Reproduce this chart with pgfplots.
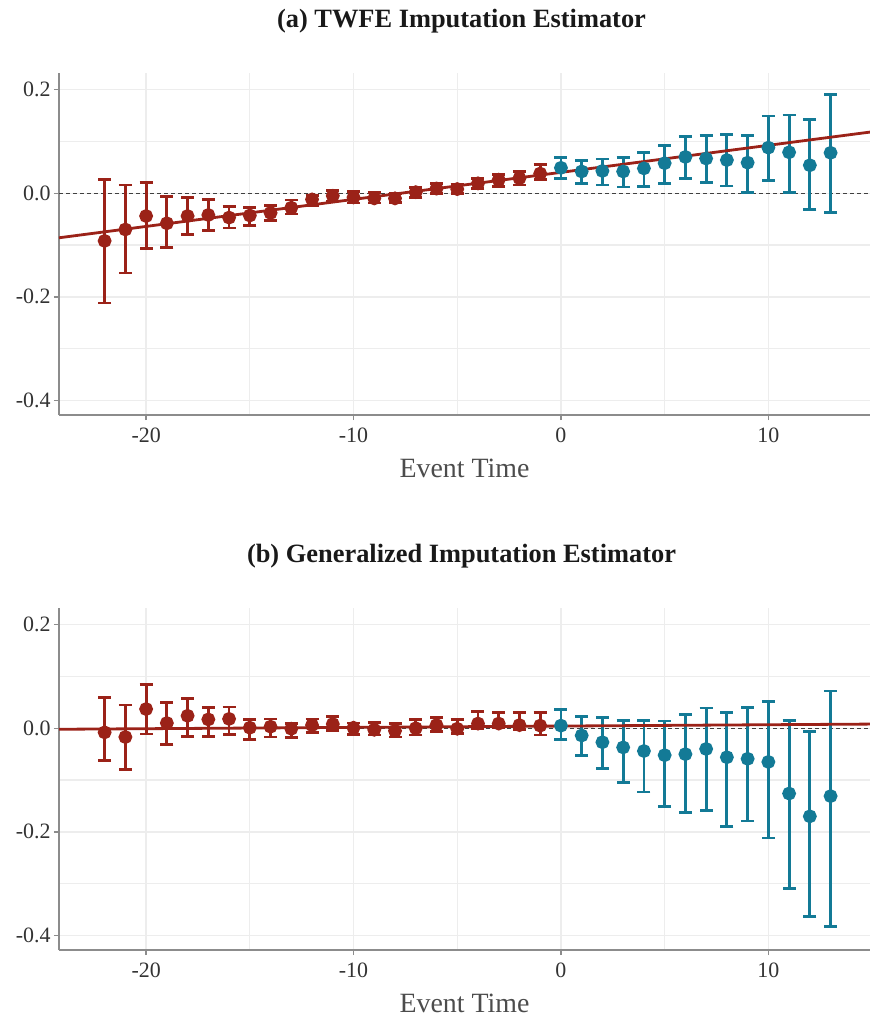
\documentclass[border=0pt]{standalone}
\usepackage{fontspec}
\setmainfont{Liberation Serif}
\usepackage{pgfplots}
\usepackage{pgfplotstable}
\pgfplotsset{compat=1.18}
\definecolor{myred}{RGB}{155,34,24}
\definecolor{myblue}{RGB}{19,122,150}

\pgfplotstableread{
x y lo hi
-22 -0.092 -0.212 0.026
-21 -0.070 -0.154 0.016
-20 -0.044 -0.106 0.021
-19 -0.058 -0.104 -0.006
-18 -0.044 -0.079 -0.008
-17 -0.042 -0.072 -0.012
-16 -0.047 -0.067 -0.026
-15 -0.043 -0.062 -0.028
-14 -0.038 -0.053 -0.024
-13 -0.028 -0.040 -0.013
-12 -0.012 -0.024 -0.004
-11 -0.005 -0.015 0.005
-10 -0.008 -0.019 0.003
-9 -0.010 -0.019 0.001
-8 -0.010 -0.018 0.000
-7 0.002 -0.008 0.011
-6 0.009 0.000 0.019
-5 0.008 0.000 0.017
-4 0.019 0.009 0.028
-3 0.026 0.013 0.036
-2 0.029 0.016 0.042
-1 0.038 0.026 0.055
}\preA

\pgfplotstableread{
x y lo hi
0 0.049 0.028 0.069
1 0.042 0.019 0.063
2 0.043 0.016 0.066
3 0.042 0.012 0.069
4 0.048 0.013 0.078
5 0.058 0.019 0.092
6 0.070 0.028 0.109
7 0.067 0.021 0.111
8 0.064 0.014 0.113
9 0.059 0.001 0.111
10 0.088 0.024 0.149
11 0.079 0.001 0.151
12 0.054 -0.032 0.142
13 0.078 -0.037 0.190
}\postA

\pgfplotstableread{
x y lo hi
-22 -0.008 -0.062 0.059
-21 -0.017 -0.079 0.045
-20 0.037 -0.011 0.084
-19 0.010 -0.031 0.049
-18 0.024 -0.016 0.057
-17 0.017 -0.016 0.040
-16 0.018 -0.012 0.041
-15 0.001 -0.022 0.017
-14 0.003 -0.017 0.018
-13 -0.001 -0.018 0.009
-12 0.006 -0.008 0.018
-11 0.008 -0.004 0.022
-10 0.001 -0.012 0.010
-9 -0.003 -0.013 0.011
-8 -0.005 -0.017 0.009
-7 0.000 -0.013 0.017
-6 0.006 -0.007 0.021
-5 -0.001 -0.010 0.017
-4 0.009 -0.001 0.033
-3 0.009 0.001 0.031
-2 0.006 -0.003 0.031
-1 0.005 -0.013 0.031
}\preB

\pgfplotstableread{
x y lo hi
0 0.005 -0.022 0.036
1 -0.014 -0.053 0.023
2 -0.027 -0.078 0.020
3 -0.037 -0.105 0.015
4 -0.044 -0.123 0.015
5 -0.052 -0.151 0.014
6 -0.050 -0.163 0.026
7 -0.040 -0.159 0.039
8 -0.056 -0.189 0.031
9 -0.059 -0.179 0.040
10 -0.065 -0.212 0.051
11 -0.126 -0.310 0.015
12 -0.170 -0.363 -0.006
13 -0.131 -0.383 0.072
}\postB

\pgfplotsset{
  panel/.style={
    scale only axis, width=811bp, height=342bp,
    xmin=-24.2, xmax=14.9, ymin=-0.428, ymax=0.232,
    xtick={-20,-10,0,10}, minor xtick={-15,-5,5},
    ytick={-0.4,-0.2,0,0.2}, minor ytick={-0.3,-0.1,0.1},
    grid=both,
    grid style={black!7, line width=1.3bp},
    minor grid style={black!7, line width=1.3bp},
    axis x line*=bottom, axis y line*=left,
    axis line style={black!45, line width=1.3bp},
    tick style={black!45, line width=1.3bp},
    tick align=outside, major tick length=5bp, minor tick length=0pt,
    ticklabel style={font=\fontsize{22}{26}\selectfont, text=black!80},
    xticklabel style={yshift=-4bp},
    /pgf/number format/assume math mode=true,
    yticklabel style={/pgf/number format/.cd, fixed, precision=1, fixed zerofill},
    xlabel={Event Time},
    xlabel style={at={(axis description cs:0.5,0)}, anchor=center, yshift=-53bp,
      font=\fontsize{28}{32}\selectfont, text=black!70},
    title style={at={(axis description cs:0.5,1)}, anchor=center, yshift=46bp, xshift=-3bp,
      font=\fontsize{26.5}{30}\selectfont\bfseries, text=black!90},
    clip=false,
  },
  errs/.style={
    only marks, mark=*, mark size=5.5bp, line width=2.8bp,
    error bars/.cd, y dir=both, y explicit,
    error bar style={line width=2.8bp},
    error mark options={rotate=90, mark size=6.5bp, line width=2.8bp},
  },
}

\begin{document}
\begin{tikzpicture}
\useasboundingbox (-59bp,-605bp) rectangle (811bp,415bp);
\begin{axis}[panel, at={(0,0)}, title={(a) TWFE Imputation Estimator}]
  \addplot[black!75, line width=1bp, dash pattern=on 4bp off 3bp] coordinates {(-24.2,0) (14.9,0)};
  \addplot[myred, mark options={myred}, errs] table[x=x, y=y,
    y error plus expr=\thisrow{hi}-\thisrow{y},
    y error minus expr=\thisrow{y}-\thisrow{lo}] {\preA};
  \addplot[myblue, mark options={myblue}, errs] table[x=x, y=y,
    y error plus expr=\thisrow{hi}-\thisrow{y},
    y error minus expr=\thisrow{y}-\thisrow{lo}] {\postA};
  \addplot[myred, line width=2.8bp] coordinates {(-24.2,-0.086) (14.9,0.118)};
\end{axis}
\begin{axis}[panel, at={(0,-535bp)}, title={(b) Generalized Imputation Estimator}]
  \addplot[black!75, line width=1bp, dash pattern=on 4bp off 3bp] coordinates {(-24.2,0) (14.9,0)};
  \addplot[myred, mark options={myred}, errs] table[x=x, y=y,
    y error plus expr=\thisrow{hi}-\thisrow{y},
    y error minus expr=\thisrow{y}-\thisrow{lo}] {\preB};
  \addplot[myblue, mark options={myblue}, errs] table[x=x, y=y,
    y error plus expr=\thisrow{hi}-\thisrow{y},
    y error minus expr=\thisrow{y}-\thisrow{lo}] {\postB};
  \addplot[myred, line width=2.8bp] coordinates {(-24.2,-0.002) (14.9,0.008)};
\end{axis}
\end{tikzpicture}
\end{document}
